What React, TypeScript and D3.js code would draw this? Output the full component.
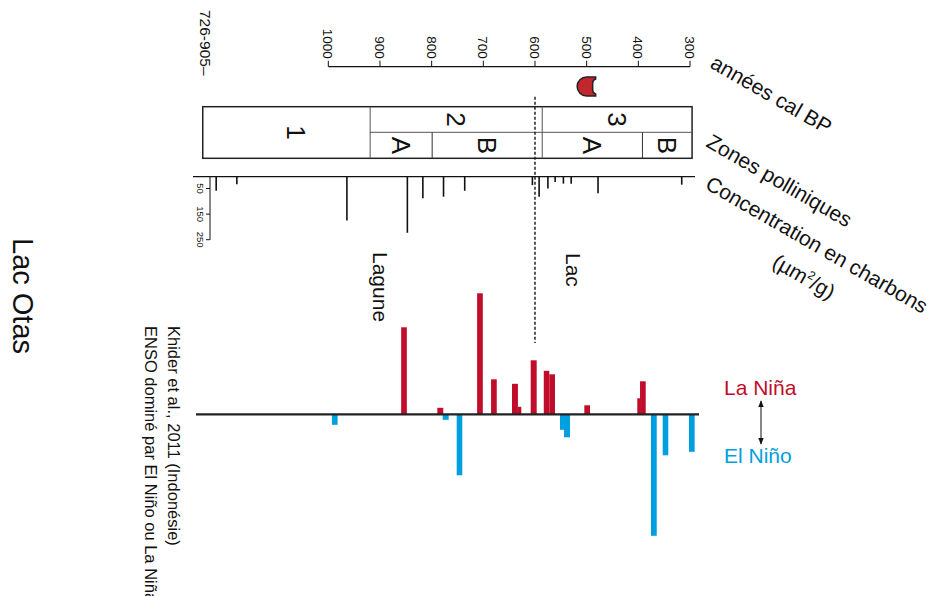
import React from 'react';
import * as d3 from 'd3';

// ---------- DATA ----------
const ageTicks = [1000, 900, 800, 700, 600, 500, 400, 300];
const dateMarkerAges = [500];
const lakeTransitionAge = 600;

const majorZoneLabels = ['1', '2', '3'];
const majorZoneStart = [1243, 919, 586];
const majorZoneEnd = [919, 586, 296];
const subZoneLabels = ['A', 'B', 'A', 'B'];
const subZoneStart = [919, 799, 586, 392];
const subZoneEnd = [799, 586, 392, 296];

const charcoalTicks = [50, 150, 250];
const charcoalAges = [1217, 1177, 964, 847, 817, 777, 736, 605, 592, 575, 561, 545, 530, 478, 316];
const charcoalValues = [59, 33, 175, 223, 88, 82, 59, 37, 82, 50, 25, 31, 31, 69, 35];

// ENSO index (positive = La Niña, negative = El Niño)
const ensoStart = [859, 789, 712, 685, 644.5, 633, 608.3, 583, 572.3, 504.5, 402, 396.7,
  993, 778.6, 751.5, 551.6, 543.8, 375.5, 352.8, 302];
const ensoEnd = [848, 777.5, 701, 674, 633, 626.5, 596.7, 572.3, 561.3, 493.5, 396.7, 385.7,
  982, 767, 740.7, 543.8, 532.2, 364.4, 342, 291];
const ensoValue = [87, 6.5, 121, 35, 30.5, 7.5, 54, 43.5, 40, 9, 16, 33,
  -10.5, -5.5, -61, -15.5, -23, -121.5, -41, -37.5];

const RED = '#c00d2b';
const BLUE = '#009fe0';
const FONT = '"Liberation Sans", Arial, Helvetica, sans-serif';

export default function App() {
  const x = d3.scaleLinear().domain([1000, 300]).range([328.3, 690]);
  const axisY = 66.7;

  const boxTop = 106.7, boxMid = 132.3, boxBot = 158.3;

  const charBase = 176.7;
  const yChar = d3.scaleLinear().domain([0, 250]).range([175.7, 239.7]);
  const charAxisX = 210;

  const yBar = d3.scaleLinear().domain([-120, 120]).range([534.3, 294.3]);
  const barBase = yBar(0);

  const zoneFs = 26;
  const rotLabel = (cx: number, cy: number, txt: string, fs: number, key: string) => (
    <text key={key} transform={`translate(${cx - 0.358 * fs},${cy}) rotate(90)`} textAnchor="middle"
      fontSize={fs} fontFamily={FONT} fill="#111">{txt}</text>
  );

  return (
    <svg width={936} height={596} style={{ position: 'absolute', left: 0, top: 0, background: '#fff' }}>
      {/* Age axis */}
      <line x1={x(1000)} x2={x(300)} y1={axisY} y2={axisY} stroke="#111" strokeWidth={1.2} />
      {ageTicks.map(t => (
        <g key={t}>
          <line x1={x(t)} x2={x(t)} y1={axisY} y2={axisY - 6} stroke="#111" strokeWidth={1} />
          <text transform={`translate(${x(t) - 0.358 * 13.5},${axisY - 8}) rotate(90)`} textAnchor="end"
            fontSize={13.5} fontFamily={FONT} fill="#111">{t}</text>
        </g>
      ))}
      <text transform={`translate(${200},${10}) rotate(90)`} fontSize={15.5} fontFamily={FONT} fill="#111">726-905–</text>

      {dateMarkerAges.map(a => {
        const cx = x(a);
        const p = `M ${cx + 9} 77 L ${cx} 77 A 9.5 9.5 0 0 0 ${cx} 96 L ${cx + 9} 96 L ${cx + 9} 94 Q ${cx + 6} 93 ${cx + 6} 90 L ${cx + 6} 83 Q ${cx + 6} 80 ${cx + 9} 79 Z`;
        return <path key={a} d={p} fill="#c1272d" stroke="#222" strokeWidth={1.5} />;
      })}

      {/* Pollen zones */}
      <rect x={x(majorZoneStart[0])} y={boxTop} width={x(majorZoneEnd[2]) - x(majorZoneStart[0])} height={boxBot - boxTop}
        fill="none" stroke="#222" strokeWidth={1.5} />
      <line x1={x(majorZoneStart[1])} x2={x(majorZoneEnd[2])} y1={boxMid} y2={boxMid} stroke="#555" strokeWidth={1} />
      {majorZoneStart.slice(1).map((s, i) => (
        <line key={'mz' + i} x1={x(s)} x2={x(s)} y1={boxTop} y2={boxBot} stroke="#555" strokeWidth={1} />
      ))}
      {subZoneStart.filter((s) => !majorZoneStart.includes(s)).map((s, i) => (
        <line key={'sz' + i} x1={x(s)} x2={x(s)} y1={boxMid} y2={boxBot} stroke="#333" strokeWidth={1} />
      ))}
      {majorZoneLabels.map((l, i) => {
        const cx = (x(majorZoneStart[i]) + x(majorZoneEnd[i])) / 2 + (i === 0 ? 10 : 0);
        const cy = i === 0 ? (boxTop + boxBot) / 2 : (boxTop + boxMid) / 2;
        return rotLabel(cx, cy, l, zoneFs, 'ml' + i);
      })}
      {subZoneLabels.map((l, i) => {
        const cx = (x(subZoneStart[i]) + x(subZoneEnd[i])) / 2;
        return rotLabel(cx, (boxMid + boxBot) / 2, l, zoneFs, 'sl' + i);
      })}

      {/* Lake transition dashed line */}
      <line x1={x(lakeTransitionAge)} x2={x(lakeTransitionAge)} y1={boxTop - 10} y2={343} stroke="#222"
        strokeWidth={1.5} strokeDasharray="3,2" />

      {/* Charcoal */}
      <line x1={193} x2={695} y1={charBase} y2={charBase} stroke="#111" strokeWidth={1.2} />
      <line x1={charAxisX} x2={charAxisX} y1={charBase} y2={yChar(250)} stroke="#111" strokeWidth={1} />
      {charcoalTicks.map(t => (
        <g key={'ct' + t}>
          <line x1={charAxisX - 4} x2={charAxisX} y1={yChar(t)} y2={yChar(t)} stroke="#111" strokeWidth={1} />
          <text transform={`translate(${196.5},${yChar(t)}) rotate(90)`} textAnchor="middle"
            fontSize={9.5} fontFamily={FONT} fill="#111">{t}</text>
        </g>
      ))}
      {charcoalAges.map((a, i) => (
        <line key={'c' + i} x1={x(a)} x2={x(a)} y1={charBase} y2={yChar(charcoalValues[i])} stroke="#111" strokeWidth={1.6} />
      ))}

      {/* ENSO bars */}
      {ensoValue.map((v, i) => {
        const x0 = x(ensoStart[i]);
        const x1 = x(ensoEnd[i]);
        const y0 = yBar(Math.max(0, v));
        const y1 = yBar(Math.min(0, v));
        return <rect key={'b' + i} x={x0} width={x1 - x0} y={y0} height={y1 - y0} fill={v > 0 ? RED : BLUE} />;
      })}
      <line x1={196} x2={699} y1={barBase} y2={barBase} stroke="#222" strokeWidth={2.2} />

      {/* Labels in plot */}
      <text transform={`translate(${373},${252}) rotate(90)`} fontSize={21} fontFamily={FONT} fill="#111">Lagune</text>
      <text transform={`translate(${566},${253}) rotate(90)`} fontSize={21} fontFamily={FONT} fill="#111">Lac</text>

      {/* Right side labels */}
      <text transform={`translate(${709},${67}) rotate(30)`} fontSize={21} fontFamily={FONT} fill="#111">années cal BP</text>
      <text transform={`translate(${705},${146}) rotate(30)`} fontSize={21} fontFamily={FONT} fill="#111">Zones polliniques</text>
      <text transform={`translate(${704},${188}) rotate(30)`} fontSize={21} fontFamily={FONT} fill="#111">Concentration en charbons</text>
      <text transform={`translate(${771},${266}) rotate(30)`} fontSize={21} fontFamily={FONT} fill="#111">
        (µm<tspan fontSize={12} dy={-8}>2</tspan><tspan dy={8}>/g)</tspan>
      </text>

      {/* Legend */}
      <text x={724} y={395} fontSize={21} fontFamily={FONT} fill={RED}>La Niña</text>
      <text x={724} y={463} fontSize={21} fontFamily={FONT} fill={BLUE}>El Niño</text>
      <defs>
        <marker id="ah" viewBox="0 0 10 10" refX={9} refY={5} markerWidth={7} markerHeight={7} orient="auto-start-reverse">
          <path d="M0,1 L10,5 L0,9 Z" fill="#111" />
        </marker>
      </defs>
      <line x1={761} x2={761} y1={401} y2={444} stroke="#111" strokeWidth={1}
        markerStart="url(#ah)" markerEnd="url(#ah)" />

      {/* Left titles */}
      <text transform={`translate(${13},${238}) rotate(90)`} fontSize={29} fontFamily={FONT} fill="#111">Lac Otas</text>
      <text transform={`translate(${168},${326}) rotate(90)`} fontSize={16.5} fontFamily={FONT} fill="#111">Khider et al., 2011 (Indonésie)</text>
      <text transform={`translate(${145},${326}) rotate(90)`} fontSize={16.5} fontFamily={FONT} fill="#111">ENSO dominé par El Niño ou La Niña</text>
    </svg>
  );
}
